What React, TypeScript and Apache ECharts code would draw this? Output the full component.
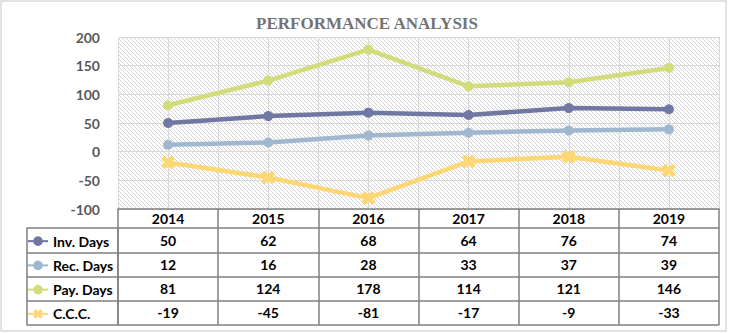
import React, { useEffect, useRef } from "react";
import * as echarts from "echarts";

const years = ["2014", "2015", "2016", "2017", "2018", "2019"];
const seriesNames = ["Inv. Days", "Rec. Days", "Pay. Days", "C.C.C."];
const invDays = [50, 62, 68, 64, 76, 74];
const recDays = [12, 16, 28, 33, 37, 39];
const payDays = [81, 124, 178, 114, 121, 146];
const cccDays = [-19, -45, -81, -17, -9, -33];
const yTicks = { min: -100, max: 200, interval: 50 };

const colors = ["#6f77a2", "#9fb8d0", "#d3dc7b", "#fcd774"];
const xMark = "path://M2.5,0 L5,2.5 L7.5,0 L10,2.5 L7.5,5 L10,7.5 L7.5,10 L5,7.5 L2.5,10 L0,7.5 L2.5,5 L0,2.5 Z";

export default function App() {
  const ref = useRef<HTMLDivElement>(null);
  useEffect(() => {
    if (!ref.current) return;
    const chart = echarts.init(ref.current, null, { renderer: "svg" });

    const c = document.createElement("canvas");
    c.width = 4;
    c.height = 4;
    const ctx = c.getContext("2d")!;
    ctx.fillStyle = "#ffffff";
    ctx.fillRect(0, 0, 4, 4);
    ctx.fillStyle = "#d4d4d4";
    for (let i = 0; i < 4; i++) ctx.fillRect(i, i, 1, 1);

    const allSeries = [invDays, recDays, payDays, cccDays];

    const tableLine = "#7f7f7f";
    const font = "Lato";
    const tableTop = 228;
    const rowH = 97 / 4;

    const legends = seriesNames.map((name, r) => ({
      orient: "horizontal",
      left: 27,
      top: tableTop + rowH * (r + 0.5) - 6,
      padding: 0,
      itemWidth: 20,
      itemHeight: 12,
      data: [name],
      selectedMode: false,
      textStyle: {
        fontFamily: font,
        fontWeight: 700,
        fontSize: 14,
        color: "#000000",
        lineHeight: 12,
      },
    }));

    chart.setOption({
      animation: false,
      backgroundColor: "#ffffff",
      title: {
        text: "PERFORMANCE ANALYSIS",
        left: "center",
        top: 10,
        textStyle: {
          fontFamily: "Liberation Serif",
          fontWeight: "bold",
          fontSize: 17,
          color: "#737373",
        },
      },
      graphic: [
        {
          type: "rect",
          shape: { x: 1, y: 1, width: 725, height: 330 },
          style: { fill: "none", stroke: "#d9d9d9", lineWidth: 1.5 },
          silent: true,
        },
      ],
      legend: legends,
      grid: [
        {
          left: 118,
          top: 37,
          width: 601,
          height: 172,
          show: true,
          borderWidth: 0,
          backgroundColor: { image: c, repeat: "repeat" } as any,
          outerBoundsMode: "none",
        },
        {
          left: 118,
          top: tableTop,
          width: 601,
          height: 97,
          show: false,
          outerBoundsMode: "none",
        },
      ],
      xAxis: [
        {
          type: "category",
          gridIndex: 0,
          data: years,
          position: "bottom",
          axisLine: { show: true, onZero: false, lineStyle: { color: tableLine, width: 1.5 } },
          axisTick: { show: true, length: 19, inside: false, lineStyle: { color: tableLine, width: 1.5 } },
          axisLabel: {
            fontFamily: font,
            fontWeight: 700,
            fontSize: 14,
            color: "#000000",
            margin: 9.5,
            verticalAlign: "middle",
          },
          splitLine: { show: false },
          z: 5,
        },
        {
          type: "value",
          gridIndex: 0,
          min: 0,
          max: 12,
          interval: 1,
          position: "top",
          axisLine: { show: false },
          axisTick: { show: false },
          axisLabel: { show: false },
          splitLine: { show: true, lineStyle: { color: "#d9d9d9", width: 1 } },
        },
        {
          type: "category",
          gridIndex: 1,
          data: years,
          position: "top",
          axisLine: { show: false },
          axisTick: { show: false },
          axisLabel: {
            show: true,
            inside: true,
            margin: 0,
            verticalAlign: "top",
            lineHeight: rowH,
            fontFamily: font,
            fontWeight: 700,
            fontSize: 14,
            color: "#000000",
            formatter: (_v: string, idx: number) =>
              allSeries.map((a) => String(a[idx])).join("\n"),
          },
          splitLine: { show: true, lineStyle: { color: tableLine, width: 1.5 } },
        },
      ],
      yAxis: [
        {
          type: "value",
          gridIndex: 0,
          min: yTicks.min,
          max: yTicks.max,
          interval: yTicks.interval,
          axisLine: { show: false },
          axisTick: { show: false },
          axisLabel: {
            fontFamily: font,
            fontWeight: 700,
            fontSize: 14,
            color: "#595959",
            margin: 18,
          },
          splitLine: { show: true, lineStyle: { color: "#d9d9d9", width: 1 } },
        },
        {
          type: "category",
          gridIndex: 1,
          data: seriesNames,
          inverse: true,
          axisLine: { show: true, lineStyle: { color: tableLine, width: 1.5 } },
          axisTick: { show: true, length: 91, inside: false, lineStyle: { color: tableLine, width: 1.5 } },
          axisLabel: { show: false },
          splitLine: { show: true, lineStyle: { color: tableLine, width: 1.5 } },
        },
        {
          type: "value",
          gridIndex: 1,
          position: "left",
          offset: 91,
          axisLine: { show: true, lineStyle: { color: tableLine, width: 1.5 } },
          axisTick: { show: false },
          axisLabel: { show: false },
          splitLine: { show: false },
        },
      ],
      series: allSeries.map((arr, i) => ({
        name: seriesNames[i],
        type: "line",
        xAxisIndex: 0,
        yAxisIndex: 0,
        data: arr,
        symbol: i === 3 ? xMark : "circle",
        symbolSize: i === 3 ? 14 : 10,
        showSymbol: true,
        lineStyle: { color: colors[i], width: 4.5 },
        itemStyle: { color: colors[i] },
        z: 3,
      })),
    } as any);
    return () => chart.dispose();
  }, []);
  return (
    <div
      ref={ref}
      style={{ position: "fixed", left: 0, top: 0, width: 734, height: 333 }}
    />
  );
}
